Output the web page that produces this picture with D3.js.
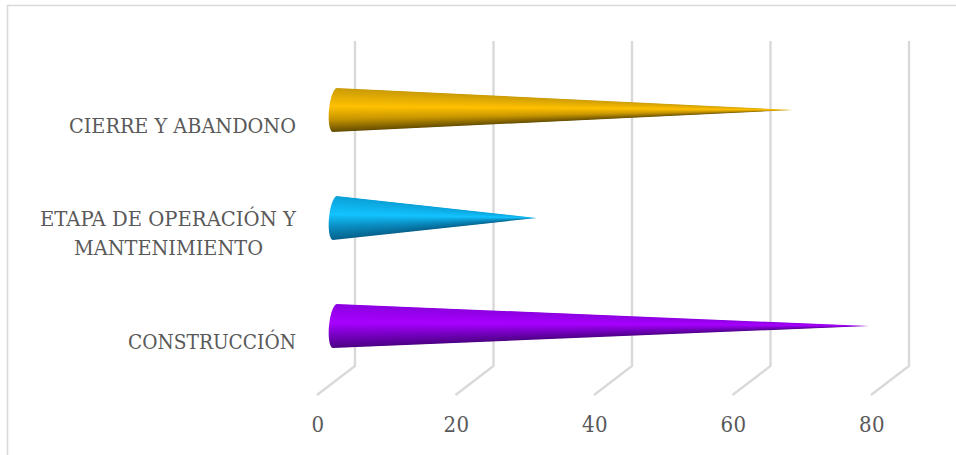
<!DOCTYPE html>
<html><head><meta charset="utf-8">
<script src="https://cdn.jsdelivr.net/npm/d3@7"></script>
<style>html,body{margin:0;padding:0;background:#fff;overflow:hidden}svg{display:block}
text{font-family:"DejaVu Serif Condensed","DejaVu Serif",serif;fill:#595959}</style></head>
<body><svg width="956" height="455"></svg>
<script>
const categories = ["CIERRE Y ABANDONO", "ETAPA DE OPERACIÓN Y MANTENIMIENTO", "CONSTRUCCIÓN"];
const values = [66, 29, 77];
const topColors = ["#c89a08", "#0a9fd6", "#8a00df"];
const midColors = ["#ffc000", "#12c3ff", "#a800ff"];
const lowColors = ["#c89600", "#0a8cc0", "#7800c4"];
const endColors = ["#5e4800", "#055e88", "#4a0080"];
const ticks = [0, 20, 40, 60, 80];

const svg = d3.select("svg");
const defs = svg.append("defs");
const x = d3.scaleLinear().domain([0, 80]).range([336, 890]);
const y = d3.scalePoint().domain(categories).range([110, 326]);
const depthX = 19, planeTop = 41, planeBottom = 366, frontBottom = 395;
const grid = "#d9d9d9";

// chart frame
svg.append("path").attr("d", "M7.5,455V5.5H956").attr("fill", "none").attr("stroke", grid).attr("stroke-width", 1.6);

// 3D wall gridlines and floor
svg.selectAll("path.grid").data(ticks).join("path").attr("class", "grid")
  .attr("fill", "none").attr("stroke", grid).attr("stroke-width", 2.4)
  .attr("d", d => `M${x(d) + depthX},${planeTop}V${planeBottom}L${x(d) - depthX},${frontBottom}`);

// tick labels
svg.selectAll("text.tick").data(ticks).join("text").attr("class", "tick")
  .attr("x", d => x(d) - depthX + 1).attr("y", 432).attr("text-anchor", "middle")
  .attr("font-size", 22).attr("letter-spacing", 0.5).text(d => d);

// category labels
const lines = [["CIERRE Y ABANDONO"], ["ETAPA DE OPERACIÓN Y", "MANTENIMIENTO"], ["CONSTRUCCIÓN"]];
const lineRight = [[296], [296, 263], [296]];
const lineWidth = [[227], [256, 189], [168]];
categories.forEach((c, k) => {
  lines[k].forEach((t, i) => {
    const base = lines[k].length === 1 ? y(c) + 23 : y(c) + 8 + i * 29;
    svg.append("text").attr("x", lineRight[k][i] - lineWidth[k][i]).attr("y", base)
      .attr("textLength", lineWidth[k][i]).attr("lengthAdjust", "spacingAndGlyphs")
      .attr("font-size", 21.3).text(t);
  });
});

// cones: one-pixel columns sharing a vertical gradient, so the shading tapers to the tip
const radius = 22;
categories.forEach((c, k) => {
  const cy = y(c), x0 = x(0) - 1, tipX = x(values[k]);
  const grad = defs.append("linearGradient").attr("id", "g" + k).attr("x1", 0).attr("y1", 0).attr("x2", 0).attr("y2", 1);
  [[0, topColors[k]], [0.42, midColors[k]], [0.7, lowColors[k]], [1, endColors[k]]].forEach(([o, col]) =>
    grad.append("stop").attr("offset", o).attr("stop-color", col));
  const pt = th => [x0 - 6 * Math.cos(th) - 2 * Math.sin(th), cy + radius * Math.sin(th)];
  const arc = d3.range(0, 25).map(j => pt(-Math.PI / 2 + Math.PI * j / 24));
  const outline = `M${tipX},${cy}L` + arc.map(p => p.join(",")).join("L") + "Z";
  defs.append("clipPath").attr("id", "c" + k).append("path").attr("d", outline);
  const g = svg.append("g").attr("clip-path", `url(#c${k})`);
  const startX = Math.floor(x0 - 7);
  d3.range(startX, Math.ceil(tipX)).forEach(px => {
    const t = px <= x0 ? 0 : (px + 0.5 - x0) / (tipX - x0);
    const h = Math.max(radius * (1 - t), 0.6);
    g.append("rect").attr("x", px).attr("width", 1).attr("y", cy - h - 0.5).attr("height", 2 * h + 1)
      .attr("fill", `url(#g${k})`);
  });
});
</script></body></html>
